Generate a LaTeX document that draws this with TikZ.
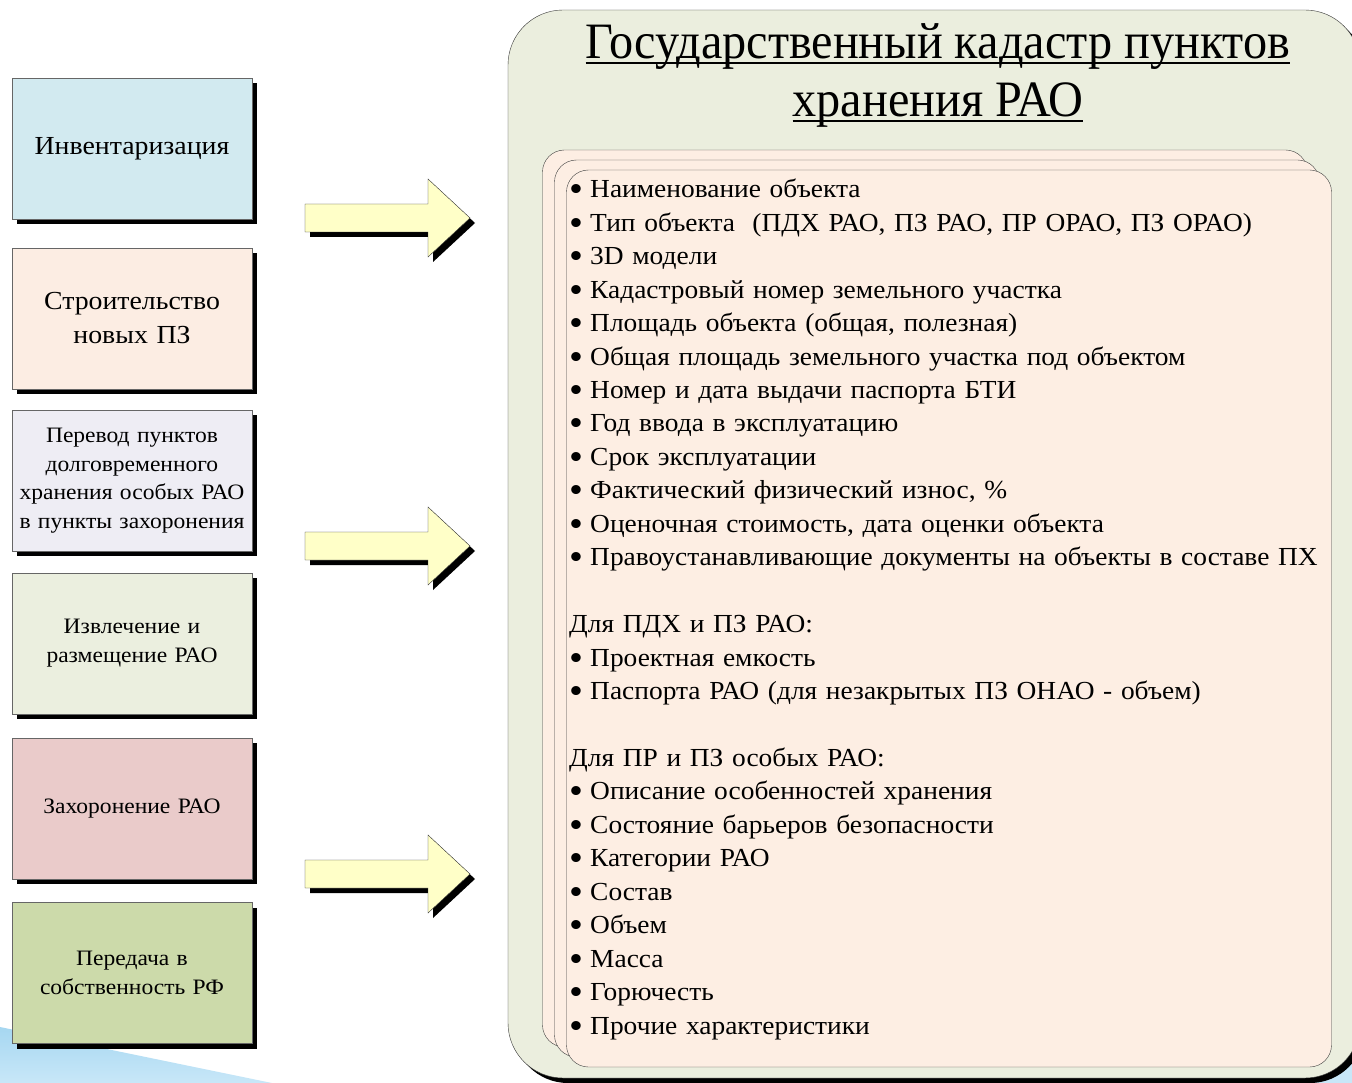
\documentclass[tikz,border=0pt]{standalone}
\usepackage{fontspec}
\setmainfont[FakeStretch=1.07]{Liberation Serif}
\newfontfamily\listfont[FakeStretch=1.055]{Liberation Serif}
\newfontfamily\titlefont[FakeStretch=0.946]{Liberation Serif}
\usetikzlibrary{positioning,shadows}

\definecolor{invcol}{HTML}{D2EAF0}
\definecolor{buildcol}{HTML}{FCEDE3}
\definecolor{transcol}{HTML}{EEEDF4}
\definecolor{extrcol}{HTML}{EBEFDF}
\definecolor{burcol}{HTML}{EACBCA}
\definecolor{handcol}{HTML}{CCDAAA}
\definecolor{arrowcol}{HTML}{FFFFC8}
\definecolor{outercol}{HTML}{EBEEDE}
\definecolor{cardcol}{HTML}{FDEEE3}
\definecolor{swooshtop}{HTML}{A6D7F1}
\definecolor{swooshbot}{HTML}{C8E7F8}

\newcommand\bul{\makebox[21pt][l]{\smash{\raisebox{-4pt}{\scalebox{1.45}{\textbullet}}}}}
\newlength\undlwd
\newcommand\undl[1]{\settowidth{\undlwd}{#1}\rlap{\rule[-5.5pt]{\undlwd}{1.6pt}}#1}

\begin{document}
\begin{tikzpicture}[x=1pt,y=-1pt,
  blackshadow/.style={drop shadow={fill=black,opacity=1,shadow xshift=5pt,shadow yshift=-5pt}},
  stage/.style={rectangle,draw=black!60,fill=#1,minimum width=240pt,minimum height=141pt,
    text width=236pt,align=center,inner sep=0pt,blackshadow,
    font=\fontsize{22}{28.5}\selectfont},
  big/.style={font=\fontsize{26}{34}\selectfont},
  arrowbox/.style={draw=black!80,fill=arrowcol,line join=miter,blackshadow},
  card/.style={rectangle,rounded corners=22pt,draw=black!75,fill=cardcol,
    minimum width=765pt,minimum height=897pt}]

  \useasboundingbox (0,0) rectangle (1352,1083);

  % background swoosh
  \shade[top color=swooshtop,bottom color=swooshbot] (0,1027) -- (272,1083) -- (0,1083) -- cycle;
  \fill[swooshbot] (1300,1050) rectangle (1352,1083);

  % stages on the left
  \node[stage=invcol,big] (inv) at (132,149) {Инвентаризация};
  \node[stage=buildcol,big] (build) [below=28pt of inv] {Строительство\\новых ПЗ};
  \node[stage=transcol] (trans) [below=21pt of build] {Перевод пунктов\\долговременного\\хранения особых РАО\\в пункты захоронения};
  \node[stage=extrcol] (extr) [below=21pt of trans] {Извлечение и\\размещение РАО};
  \node[stage=burcol] (bur) [below=24pt of extr] {Захоронение РАО};
  \node[stage=handcol] (hand) [below=23pt of bur] {Передача в\\собственность РФ};

  % arrows
  \foreach \y in {218,546,874}
    \draw[arrowbox] (305,\y-14) -- (428,\y-14) -- (428,\y-39) -- (470,\y)
      -- (428,\y+39) -- (428,\y+14) -- (305,\y+14) -- cycle;

  % cadastre
  \node[rectangle,rounded corners=55pt,draw=black!80,fill=outercol,blackshadow,
    minimum width=852pt,minimum height=1068pt] (cad) at (934,544) {};
  \node[anchor=north,align=center,inner sep=0pt,font=\titlefont\fontsize{51}{58}\selectfont] (title) at (938,23)
    {\undl{Государственный кадастр пунктов}\\\undl{хранения РАО}};

  \foreach \k in {0,1,2}
    \node[card] (card\k) at (925+12*\k,598.5+10*\k) {};

  \node[anchor=north west,align=left,text width=770pt,inner sep=0pt,
    font=\listfont\fontsize{26}{33.45}\selectfont] (list) at (569,179)
    {\bul Наименование объекта\\
     \bul Тип объекта~ (ПДХ РАО, ПЗ РАО, ПР ОРАО, ПЗ ОРАО)\\
     \bul 3D модели\\
     \bul Кадастровый номер земельного участка\\
     \bul Площадь объекта (общая, полезная)\\
     \bul Общая площадь земельного участка под объектом\\
     \bul Номер и дата выдачи паспорта БТИ\\
     \bul Год ввода в эксплуатацию\\
     \bul Срок эксплуатации\\
     \bul Фактический физический износ, \%\\
     \bul Оценочная стоимость, дата оценки объекта\\
     \bul Правоустанавливающие документы на объекты в составе ПХ\\[33.45pt]
     Для ПДХ и ПЗ РАО:\\
     \bul Проектная емкость\\
     \bul Паспорта РАО (для незакрытых ПЗ ОНАО - объем)\\[33.45pt]
     Для ПР и ПЗ особых РАО:\\
     \bul Описание особенностей хранения\\
     \bul Состояние барьеров безопасности\\
     \bul Категории РАО\\
     \bul Состав\\
     \bul Объем\\
     \bul Масса\\
     \bul Горючесть\\
     \bul Прочие характеристики};
\end{tikzpicture}
\end{document}
